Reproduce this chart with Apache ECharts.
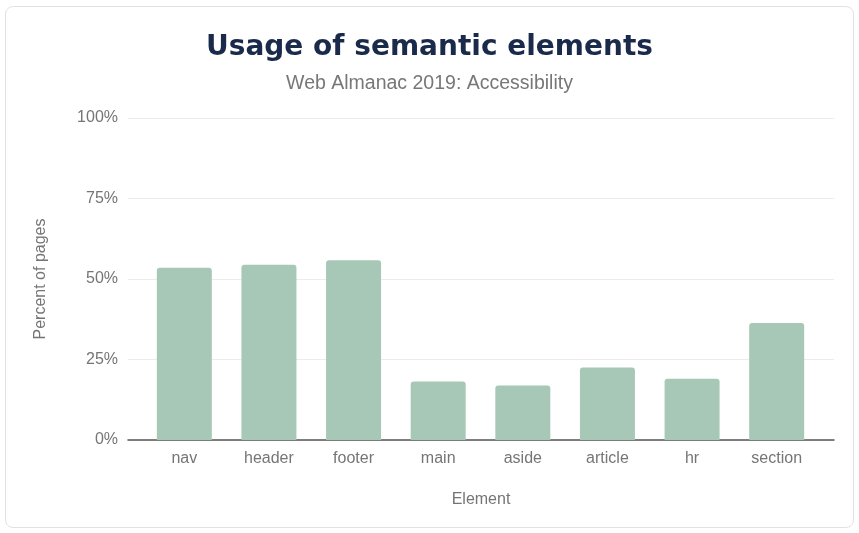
<!DOCTYPE html>
<html>
<head>
<meta charset="utf-8">
<script src="https://cdn.jsdelivr.net/npm/echarts@6/dist/echarts.min.js"></script>
<style>
  html, body { margin: 0; padding: 0; background: #fff; }
  #card { position: absolute; left: 5px; top: 6px; width: 849px; height: 522px; border: 1px solid #e2e2e2; border-radius: 8px; box-sizing: border-box; }
  #chart { position: absolute; left: 0; top: 0; width: 859px; height: 533px; }
</style>
</head>
<body>
<div id="card"></div>
<div id="chart"></div>
<script>
// data
var categories = ['nav', 'header', 'footer', 'main', 'aside', 'article', 'hr', 'section'];
var percentOfPages = [53.5, 54.4, 55.8, 18.2, 16.9, 22.5, 19.0, 36.3];
var yTicks = [0, 25, 50, 75, 100];

var chart = echarts.init(document.getElementById('chart'));
var font = 'Liberation Sans, Arial, sans-serif';

function getOption() {
    return {
        animation: false,
        title: [
            {
                text: 'Usage of semantic elements',
                left: 'center',
                top: 29,
                textStyle: { fontFamily: 'DejaVu Sans', fontSize: 28, fontWeight: 'bold', color: '#1a2a4a' }
            },
            {
                text: 'Web Almanac 2019: Accessibility',
                left: 'center',
                top: 69,
                textStyle: { fontFamily: font, fontSize: 19.5, fontWeight: 'normal', color: '#777' }
            }
        ],
        // grid 0 draws the split lines and axis line, grid 1 holds the bars
        grid: [
            { left: 128, right: 25, top: 118, bottom: 93 },
            { left: 142, right: 40, top: 118, bottom: 93 }
        ],
        xAxis: [
            {
                gridIndex: 0,
                type: 'category',
                data: [''],
                axisLine: { show: true, lineStyle: { color: '#555', width: 1.5 } },
                axisTick: { show: false },
                axisLabel: { show: false },
                name: 'Element',
                nameLocation: 'middle',
                nameGap: 52,
                nameTextStyle: { fontFamily: font, fontSize: 16, color: '#757575' }
            },
            {
                gridIndex: 1,
                type: 'category',
                data: categories,
                axisLine: { show: false },
                axisTick: { show: false },
                axisLabel: { margin: 11, fontFamily: font, fontSize: 16, color: '#757575' }
            }
        ],
        yAxis: [
            {
                gridIndex: 0,
                type: 'value',
                min: yTicks[0],
                max: yTicks[yTicks.length - 1],
                interval: 25,
                axisLine: { show: false },
                axisTick: { show: false },
                axisLabel: { margin: 10, formatter: '{value}%', fontFamily: font, fontSize: 16, color: '#757575' },
                splitLine: { lineStyle: { color: '#ececec', width: 1 } },
                name: 'Percent of pages',
                nameLocation: 'middle',
                nameGap: 79,
                nameTextStyle: { fontFamily: font, fontSize: 16, color: '#757575' }
            },
            {
                gridIndex: 1,
                type: 'value',
                min: yTicks[0],
                max: yTicks[yTicks.length - 1],
                interval: 25,
                show: false,
                splitLine: { show: false }
            }
        ],
        series: [
            {
                type: 'bar',
                xAxisIndex: 1,
                yAxisIndex: 1,
                data: percentOfPages,
                barWidth: 55,
                itemStyle: { color: '#a7c8b7', borderRadius: [3, 3, 0, 0] }
            }
        ]
    };
}

chart.setOption(getOption());
window.addEventListener('resize', function () { chart.resize(); });
</script>
</body>
</html>
